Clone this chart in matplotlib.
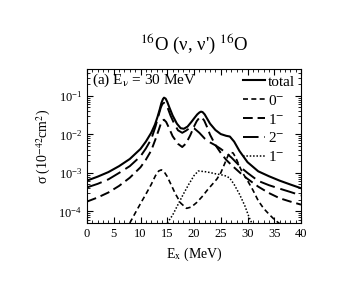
import numpy as np
import matplotlib
matplotlib.use("Agg")
import matplotlib.pyplot as plt
from matplotlib.ticker import MultipleLocator, LogLocator, NullFormatter

# values (Ex in MeV, sigma in 1e-42 cm^2)
x_total = [0, 2, 4, 6, 8, 10, 11, 12, 12.7, 13.2, 13.6, 13.9, 14.2, 14.4, 14.7, 15.0,
           15.4, 16, 16.8, 17.5, 18.1, 18.8, 19.5, 20.1, 20.6, 21.0, 21.3, 21.6, 22.0,
           22.5, 23, 24, 25, 26, 26.7, 27.5, 28.5, 30, 32, 34, 36, 38, 40]
y_total = [6.3e-4, 8e-4, 1.05e-3, 1.5e-3, 2.3e-3, 4.2e-3, 6.5e-3, 0.011, 0.018, 0.029,
           0.045, 0.065, 0.083, 0.09, 0.085, 0.07, 0.05, 0.031, 0.019, 0.0145, 0.014,
           0.016, 0.021, 0.027, 0.033, 0.037, 0.039, 0.038, 0.033, 0.025, 0.019, 0.013,
           0.0102, 0.0092, 0.0088, 0.0065, 0.0037, 0.0019, 1.1e-3, 8.2e-4, 6.3e-4,
           5.0e-4, 4.0e-4]

x_0m = [8, 9, 10, 11, 12, 12.8, 13.4, 13.9, 14.4, 15.0, 15.7, 16.5, 17.5, 18.6, 19.5,
        20.5, 21.5, 22.5, 23.5, 24.3, 25, 25.7, 26.3, 26.8, 27.3, 27.8, 28.4, 29, 30,
        31, 32, 33, 34, 35, 36]
y_0m = [5e-5, 9e-5, 1.6e-4, 2.8e-4, 5e-4, 8.5e-4, 1.12e-3, 1.2e-3, 1.08e-3, 8e-4,
        5e-4, 2.9e-4, 1.65e-4, 1.2e-4, 1.3e-4, 1.7e-4, 2.4e-4, 3.6e-4, 5.2e-4, 7e-4,
        1.0e-3, 1.7e-3, 2.7e-3, 3.4e-3, 3.3e-3, 2.5e-3, 1.6e-3, 1.05e-3, 6.3e-4,
        3.6e-4, 1.9e-4, 1.2e-4, 8.5e-5, 6.2e-5, 4.8e-5]

x_1m = [0, 2, 4, 6, 8, 10, 11, 12, 12.8, 13.4, 13.8, 14.1, 14.4, 14.8, 15.3, 16, 17,
        17.8, 18.5, 19.3, 20, 20.5, 20.9, 21.2, 21.5, 21.9, 22.4, 23, 24, 25, 26, 27,
        28, 29, 30, 32, 34, 36, 38, 40]
y_1m = [1.8e-4, 2.3e-4, 3.1e-4, 4.6e-4, 7.5e-4, 1.4e-3, 2.2e-3, 3.8e-3, 7.5e-3, 0.013,
        0.019, 0.023, 0.024, 0.021, 0.015, 0.009, 0.0057, 0.0047, 0.0058, 0.0095,
        0.016, 0.022, 0.026, 0.028, 0.027, 0.023, 0.016, 0.0098, 0.0053, 0.0033,
        0.0022, 0.0016, 0.0012, 9e-4, 7e-4, 4.4e-4, 3.0e-4, 2.2e-4, 1.8e-4, 1.5e-4]

x_2m = [0, 2, 4, 6, 8, 10, 11, 12, 12.8, 13.4, 13.8, 14.1, 14.4, 14.7, 15.1, 15.6,
        16.3, 17, 17.8, 18.5, 19.3, 20, 21, 22, 23, 24, 25, 26, 27, 28, 29, 30, 32, 34,
        36, 38, 40]
y_2m = [4.2e-4, 5.2e-4, 6.8e-4, 1.0e-3, 1.5e-3, 2.7e-3, 4.3e-3, 7.5e-3, 0.016, 0.032,
        0.05, 0.062, 0.066, 0.062, 0.048, 0.031, 0.019, 0.0128, 0.011, 0.0125, 0.015,
        0.0145, 0.011, 0.0078, 0.0062, 0.0052, 0.0042, 0.0033, 0.0025, 0.0018, 0.0013,
        1.0e-3, 6.2e-4, 4.8e-4, 3.9e-4, 3.2e-4, 2.6e-4]

x_1b = [15, 16, 17, 18, 19, 20, 20.8, 22, 23, 24, 25, 26, 26.7, 27.5, 28.5, 29.5, 30.3,
        30.8]
y_1b = [5e-5, 8e-5, 1.5e-4, 2.8e-4, 5e-4, 8.5e-4, 1.12e-3, 1.08e-3, 1.02e-3, 9.5e-4,
        9e-4, 8.3e-4, 7.3e-4, 5e-4, 2.8e-4, 1.4e-4, 7e-5, 5e-5]

plt.rcParams['font.family'] = 'serif'
plt.rcParams['font.serif'] = ['Liberation Serif', 'DejaVu Serif']
plt.rcParams['mathtext.fontset'] = 'stix'

fig = plt.figure(figsize=(3.48, 3.08), dpi=100)
ax = fig.add_axes([0.25, 0.276, 0.615, 0.5])

ax.plot(x_total, y_total, color='black', lw=1.5, label='total')
ax.plot(x_0m, y_0m, color='black', lw=1.2, dashes=(3, 2), label=r'0$^{-}$')
ax.plot(x_1m, y_1m, color='black', lw=1.4, dashes=(5, 2.5), label=r'1$^{-}$')
ax.plot(x_2m, y_2m, color='black', lw=1.4, dashes=(8, 3), label=r'2$^{-}$')
ax.plot(x_1b, y_1b, color='black', lw=1.1, dashes=(1, 1.2), label=r'1$^{-}$')

ax.set_yscale('log')
ax.set_xlim(0, 40)
ax.set_ylim(5e-5, 0.5)
ax.xaxis.set_major_locator(MultipleLocator(5))
ax.xaxis.set_minor_locator(MultipleLocator(1))
ax.set_yticks([1e-4, 1e-3, 1e-2, 1e-1])
ax.yaxis.set_minor_locator(LogLocator(base=10, subs=np.arange(2, 10)))
ax.yaxis.set_minor_formatter(NullFormatter())
ax.tick_params(which='both', direction='in', top=True, right=True, labelsize=9)
ax.tick_params(which='major', length=4)
ax.tick_params(which='minor', length=2)
for s in ax.spines.values():
    s.set_linewidth(0.8)

ax.set_xlabel(r'E$_{\rm x}$ (MeV)', fontsize=10)
ax.set_ylabel('σ (10$^{-42}$cm$^{2}$)', fontsize=10)
ax.set_title("$^{16}$O (ν, ν') $^{16}$O", fontsize=13.5, pad=14)
ax.text(0.025, 0.905, '(a) E$_{\\mathrm{ν}}$ = 30 MeV', transform=ax.transAxes,
        fontsize=11)

ax.legend(loc='upper right', frameon=False, fontsize=11, handlelength=1.4,
          handletextpad=0.2, labelspacing=0.32, borderaxespad=0.0)

fig.savefig('out.png', dpi=100)
